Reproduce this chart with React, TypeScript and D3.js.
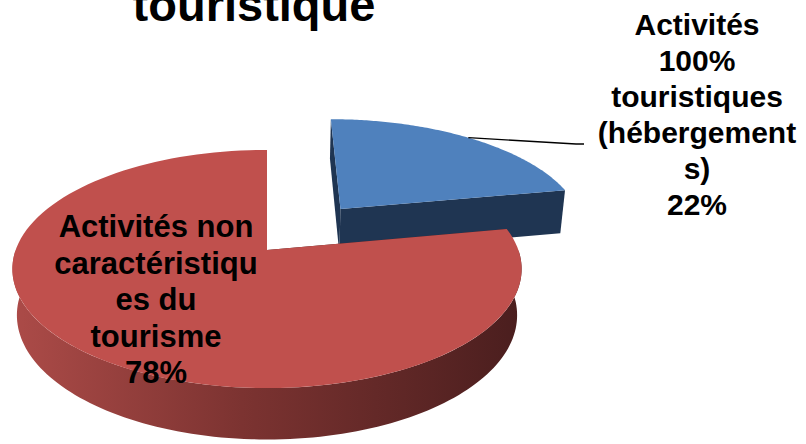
import React from "react";
import * as d3 from "d3";

// chart data
const categories = [
  "Activités 100% touristiques (hébergements)",
  "Activités non caractéristiques du tourisme",
];
const shares = [22, 78];
const labelLines = [
  ["Activités", "100%", "touristiques", "(hébergement", "s)"],
  ["Activités non", "caractéristiqu", "es du", "tourisme"],
];
const titleLines = ["touristique"];

const topColors = ["#4F81BD", "#C0504D"];
const sideColors = ["#1F3552", "#4A1E1E"];

const W = 806;
const H = 444;

// simple perspective camera fitted to the picture
const cam = { cx: 267, cy: 250, fx: 1395, fy: 1388, D: 5.55, tilt: Math.asin(0.464) };
const thick = 0.21;
const explode = 0.486;

const project = (X: number, Y: number, Z: number): [number, number] => {
  const s = Math.sin(cam.tilt);
  const c = Math.cos(cam.tilt);
  const d = cam.D + Z * c - Y * s;
  const v = Y * c + Z * s;
  return [cam.cx + (cam.fx * X) / d, cam.cy - (cam.fy * v) / d];
};

const line = d3.line<[number, number]>().x((d) => d[0]).y((d) => d[1]);

const App = () => {
  const arcs = d3
    .pie<number>()
    .sort(null)
    .startAngle(0)
    .endAngle(2 * Math.PI)(shares);

  const slices = arcs.map((a, i) => {
    const mid = (a.startAngle + a.endAngle) / 2;
    const off = i === 0 ? { x: explode * Math.sin(mid), z: explode * Math.cos(mid) } : { x: 0, z: 0 };
    const pt = (ang: number, r: number, Y: number) =>
      project(off.x + r * Math.sin(ang), Y, off.z + r * Math.cos(ang));
    const arcPts = (a0: number, a1: number, Y: number) =>
      d3.range(0, 121).map((k) => pt(a0 + ((a1 - a0) * k) / 120, 1, Y));

    const top = line([pt(0, 0, 0), ...arcPts(a.startAngle, a.endAngle, 0)])! + "Z";
    const radial = [a.startAngle, a.endAngle].map(
      (ang) => line([pt(0, 0, 0), pt(ang, 1, 0), pt(ang, 1, -thick), pt(0, 0, -thick)])! + "Z"
    );
    const w0 = Math.max(a.startAngle, Math.PI / 2);
    const w1 = Math.min(a.endAngle, (3 * Math.PI) / 2);
    const wall =
      w1 > w0
        ? line([...arcPts(w0, w1, 0), ...arcPts(w0, w1, -thick).reverse()])! + "Z"
        : null;
    return { i, mid, pt, top, radial, wall };
  });

  const blue = slices[0];
  const leadStart = blue.pt(blue.mid, 1, 0);

  const font = "'Liberation Sans', Arial, sans-serif";

  // draw the far (exploded) slice first
  const order = [0, 1];

  return (
    <svg width={W} height={H} style={{ position: "absolute", left: 0, top: 0 }}>
      <defs>
        <linearGradient id="redWall" x1="0" x2="1" y1="0" y2="0">
          <stop offset="0" stopColor="#AC4B48" />
          <stop offset="0.45" stopColor="#7C3331" />
          <stop offset="1" stopColor="#4A1E1E" />
        </linearGradient>
      </defs>
      <rect width={W} height={H} fill="#FFFFFF" />

      {titleLines.map((t, k) => (
        <text key={k} x={254} y={21 + k * 50} textAnchor="middle" fontFamily={font}
          fontWeight="bold" fontSize={47} fill="#000">
          {t}
        </text>
      ))}

      {order.map((idx) => {
        const s = slices[idx];
        return (
          <g key={idx}>
            {s.radial.map((p, k) => (
              <path key={k} d={p} fill={sideColors[idx]} />
            ))}
            {s.wall && <path d={s.wall} fill={idx === 1 ? "url(#redWall)" : sideColors[idx]} />}
            <path d={s.top} fill={topColors[idx]} />
          </g>
        );
      })}

      <polyline
        points={`${leadStart[0]},${leadStart[1]} 576,144 584,144`}
        fill="none" stroke="#000" strokeWidth={1.3}
      />

      <text x={697} y={35} textAnchor="middle" fontFamily={font} fontWeight="bold" fontSize={30} fill="#000">
        {[...labelLines[0], `${shares[0]}%`].map((l, k) => (
          <tspan key={k} x={697} y={35 + k * 36}>{l}</tspan>
        ))}
      </text>
      <text x={156} y={237} textAnchor="middle" fontFamily={font} fontWeight="bold" fontSize={31} fill="#000">
        {[...labelLines[1], `${shares[1]}%`].map((l, k) => (
          <tspan key={k} x={156} y={237 + k * 36.5}>{l}</tspan>
        ))}
      </text>
      <title>{categories.join(" / ")}</title>
    </svg>
  );
};

export default App;
